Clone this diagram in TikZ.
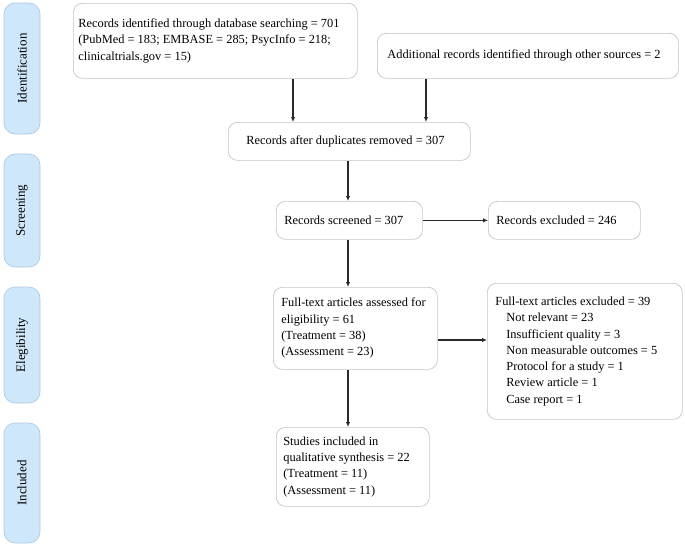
\documentclass[tikz,border=0pt]{standalone}
\usepackage{fontspec}
\setmainfont{Liberation Serif}
\usetikzlibrary{arrows.meta}
\definecolor{phasefill}{HTML}{CFE7FB}
\definecolor{phasedraw}{HTML}{A9C6DE}
\definecolor{boxdraw}{HTML}{C4C4C4}
\definecolor{arrowcol}{HTML}{2A2A2A}
\tikzset{
  phase/.style={draw=phasedraw, fill=phasefill, rounded corners=11pt, rotate=90,
    minimum height=36pt, inner sep=0pt, font=\fontsize{13}{15}\selectfont, line width=0.6pt},
  flowbox/.style={draw=boxdraw, rounded corners=9pt, anchor=north west, align=flush left,
    inner ysep=0pt, font=\fontsize{12.4}{16.3}\selectfont, line width=0.7pt},
  flowarrow/.style={draw=arrowcol, line width=1.3pt, -{Latex[length=5pt,width=4.5pt]}}
}
\begin{document}
\begin{tikzpicture}[x=1pt,y=-1pt]
\useasboundingbox (0,0) rectangle (685,546);
% phase labels
\node[phase, minimum width=131pt] (pid) at (22,68.5) {Identification};
\node[phase, minimum width=113pt] (psc) at (22,210.5) {Screening};
\node[phase, minimum width=116pt] (pel) at (22,345) {Elegibility};
\node[phase, minimum width=120pt] (pin) at (22,483) {Included};
% boxes
\node[flowbox, minimum width=284pt, minimum height=75pt, text width=274pt, inner xsep=5pt] (db) at (73,3)
  {Records identified through database searching = 701\\(PubMed = 183; EMBASE = 285; PsycInfo = 218;\\clinicaltrials.gov = 15)};
\node[flowbox, minimum width=301pt, minimum height=45pt, text width=281pt, inner xsep=10pt] (other) at (377,33)
  {Additional records identified through other sources = 2};
\node[flowbox, minimum width=242pt, minimum height=38pt, text width=206pt, inner xsep=18pt] (dup) at (228,122)
  {Records after duplicates removed = 307};
\node[flowbox, minimum width=146pt, minimum height=38pt, text width=130pt, inner xsep=8pt] (scr) at (276,201)
  {Records screened = 307};
\node[flowbox, minimum width=152pt, minimum height=38pt, text width=136pt, inner xsep=8pt] (exc) at (488,201)
  {Records excluded = 246};
\node[flowbox, minimum width=164pt, minimum height=82pt, text width=148pt, inner xsep=8pt] (full) at (273,287)
  {Full-text articles assessed for\\eligibility = 61\\(Treatment = 38)\\(Assessment = 23)};
\node[flowbox, minimum width=195pt, minimum height=136pt, text width=179pt, inner xsep=8pt] (fexc) at (487,283)
  {Full-text articles excluded = 39\\
   \hspace*{11pt}Not relevant = 23\\
   \hspace*{11pt}Insufficient quality = 3\\
   \hspace*{11pt}Non measurable outcomes = 5\\
   \hspace*{11pt}Protocol for a study = 1\\
   \hspace*{11pt}Review article = 1\\
   \hspace*{11pt}Case report = 1};
\node[flowbox, minimum width=153pt, minimum height=79pt, text width=139pt, inner xsep=7pt] (inc) at (276,427)
  {Studies included in\\qualitative synthesis = 22\\(Treatment = 11)\\(Assessment = 11)};
% arrows
\draw[flowarrow] (db.south -| 293,0) -- (dup.north -| 293,0);
\draw[flowarrow] (other.south -| 426,0) -- (dup.north -| 426,0);
\draw[flowarrow] (dup.south -| 348,0) -- (scr.north -| 348,0);
\draw[flowarrow] (scr.east) -- (exc.west);
\draw[flowarrow] (scr.south -| 348,0) -- (full.north -| 348,0);
\draw[flowarrow] (full.east |- 0,340) -- (fexc.west |- 0,340);
\draw[flowarrow] (full.south -| 348,0) -- (inc.north -| 348,0);
\end{tikzpicture}
\end{document}
